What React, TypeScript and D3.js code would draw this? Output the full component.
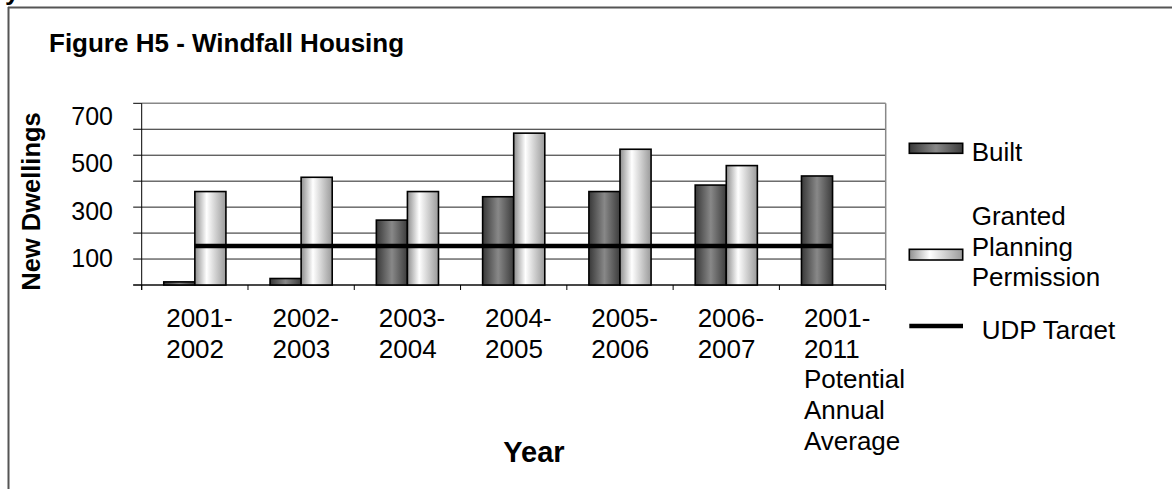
import React from "react";
import * as d3 from "d3";

// Reporting periods along the category axis
const periods = [
  "2001-2002",
  "2002-2003",
  "2003-2004",
  "2004-2005",
  "2005-2006",
  "2006-2007",
  "2001-2011 Potential Annual Average",
];
const periodLabelLines = [
  ["2001-", "2002"],
  ["2002-", "2003"],
  ["2003-", "2004"],
  ["2004-", "2005"],
  ["2005-", "2006"],
  ["2006-", "2007"],
  ["2001-", "2011", "Potential", "Annual", "Average"],
];

// Windfall dwellings per period
const built = [12, 25, 250, 340, 360, 385, 420];
const granted: (number | null)[] = [360, 415, 360, 585, 523, 460, null];
const udpTarget = [150, 150, 150, 150, 150, 150, 150];

const gridValues = [0, 100, 200, 300, 400, 500, 600, 700];
const yTickLabels = [100, 300, 500, 700];

const seriesKeys = ["Built", "Granted Planning Permission"];

const FONT = "'Liberation Sans', Arial, Helvetica, sans-serif";

export default function App() {
  const W = 1172;
  const H = 489;
  const plotLeft = 141.7;
  const plotRight = 885.7;
  const plotTop = 103.3;
  const plotBottom = 285;

  const x = d3.scaleBand<string>().domain(periods).range([plotLeft, plotRight]).padding(0);
  const xs = d3
    .scaleBand<string>()
    .domain(seriesKeys)
    .range([0, x.bandwidth()])
    .paddingInner(0)
    .paddingOuter(0.71);
  const y = d3.scaleLinear().domain([0, 700]).range([plotBottom, plotTop]);
  // tick labels are spread over their own band beside the axis
  const yLabel = d3.scaleLinear().domain([100, 700]).range([258.3, 115.5]);

  const udpLine = d3
    .line<number>()
    .x((_, i) => (x(periods[i]) as number) + x.bandwidth() / 2)
    .y((d) => y(d));

  const boundaries = periods.map((p) => x(p) as number).concat([plotRight]);

  return (
    <svg
      width={W}
      height={H}
      viewBox={`0 0 ${W} ${H}`}
      style={{ position: "absolute", left: 0, top: 0, display: "block", background: "#fff" }}
      fontFamily={FONT}
    >
      <defs>
        <linearGradient id="gradBuilt" x1="0" x2="1" y1="0" y2="0">
          <stop offset="0%" stopColor="#383838" />
          <stop offset="50%" stopColor="#888888" />
          <stop offset="100%" stopColor="#3c3c3c" />
        </linearGradient>
        <linearGradient id="gradGranted" x1="0" x2="1" y1="0" y2="0">
          <stop offset="0%" stopColor="#8e8e8e" />
          <stop offset="38%" stopColor="#ffffff" />
          <stop offset="100%" stopColor="#9a9a9a" />
        </linearGradient>
        <clipPath id="legendClip">
          <rect x={890} y={100} width={282} height={239} />
        </clipPath>
      </defs>

      {/* trailing letter of the text above the figure */}
      <text x={5} y={0} fontSize={26} fontWeight="bold" fill="#000">
        y
      </text>

      {/* figure frame */}
      <line x1={8} x2={W} y1={7.5} y2={7.5} stroke="#555" strokeWidth={2} />
      <line x1={8.5} x2={8.5} y1={7} y2={H} stroke="#555" strokeWidth={2} />

      <text x={49} y={51.7} fontSize={26} fontWeight="bold" fill="#000">
        Figure H5 - Windfall Housing
      </text>

      {/* gridlines */}
      {gridValues.map((v) => (
        <line
          key={`g${v}`}
          x1={plotLeft}
          x2={plotRight}
          y1={y(v)}
          y2={y(v)}
          stroke={v === 700 ? "#888" : "#222"}
          strokeWidth={v === 700 ? 1.5 : 1}
        />
      ))}
      {/* right border of plot */}
      <line x1={plotRight} x2={plotRight} y1={plotTop} y2={plotBottom} stroke="#888" strokeWidth={1.5} />

      {/* y axis */}
      <line x1={plotLeft} x2={plotLeft} y1={plotTop} y2={plotBottom + 5} stroke="#000" strokeWidth={1} />
      {gridValues.map((v) => (
        <line key={`t${v}`} x1={plotLeft - 8.5} x2={plotLeft} y1={y(v)} y2={y(v)} stroke="#000" strokeWidth={1} />
      ))}
      {yTickLabels.map((v) => (
        <text key={`yl${v}`} x={113} y={yLabel(v) + 9} fontSize={25} textAnchor="end" fill="#000">
          {v}
        </text>
      ))}

      {/* x axis */}
      <line x1={plotLeft - 8.5} x2={plotRight} y1={plotBottom} y2={plotBottom} stroke="#000" strokeWidth={1} />
      {boundaries.map((bx, i) => (
        <line key={`xt${i}`} x1={bx} x2={bx} y1={plotBottom} y2={plotBottom + 5} stroke="#000" strokeWidth={1} />
      ))}

      {/* bars */}
      {periods.map((p, i) => {
        const x0 = x(p) as number;
        const bxB = x0 + (xs("Built") as number);
        const bxG = x0 + (xs("Granted Planning Permission") as number);
        const g = granted[i];
        return (
          <g key={p}>
            <rect
              x={bxB}
              y={y(built[i])}
              width={xs.bandwidth()}
              height={y(0) - y(built[i])}
              fill="url(#gradBuilt)"
              stroke="#000"
              strokeWidth={1.6}
            />
            {g !== null && (
              <rect
                x={bxG}
                y={y(g)}
                width={xs.bandwidth()}
                height={y(0) - y(g)}
                fill="url(#gradGranted)"
                stroke="#000"
                strokeWidth={1.6}
              />
            )}
          </g>
        );
      })}

      {/* UDP target line */}
      <path d={udpLine(udpTarget) || ""} fill="none" stroke="#000" strokeWidth={4.5} />

      {/* category labels */}
      {periods.map((p, i) => (
        <text key={`xl${p}`} x={(x(p) as number) + 24.5} y={326.7} fontSize={26} fill="#000">
          {periodLabelLines[i].map((line, j) => (
            <tspan key={j} x={(x(p) as number) + 24.5} y={326.7 + j * 30.8}>
              {line}
            </tspan>
          ))}
        </text>
      ))}

      {/* axis titles */}
      <text x={534} y={461.7} fontSize={29} fontWeight="bold" textAnchor="middle" fill="#000">
        Year
      </text>
      <text
        transform={`translate(40,201.5) rotate(-90)`}
        fontSize={25.5}
        fontWeight="bold"
        textAnchor="middle"
        fill="#000"
      >
        New Dwellings
      </text>

      {/* legend */}
      <g clipPath="url(#legendClip)">
        <rect x={909.3} y={143.3} width={53.4} height={10} fill="url(#gradBuilt)" stroke="#000" strokeWidth={1.6} />
        <text x={971.7} y={160.5} fontSize={26} fill="#000">
          Built
        </text>
        <rect x={909.3} y={249.3} width={53.4} height={10.7} fill="url(#gradGranted)" stroke="#000" strokeWidth={1.6} />
        <text x={971.7} y={225} fontSize={26} fill="#000">
          <tspan x={971.7} y={225}>Granted</tspan>
          <tspan x={971.7} y={255.5}>Planning</tspan>
          <tspan x={971.7} y={286}>Permission</tspan>
        </text>
        <line x1={909.3} x2={963} y1={326} y2={326} stroke="#000" strokeWidth={4.5} />
        <text x={981.7} y={338.5} fontSize={26} fill="#000">
          UDP Target
        </text>
      </g>
    </svg>
  );
}
